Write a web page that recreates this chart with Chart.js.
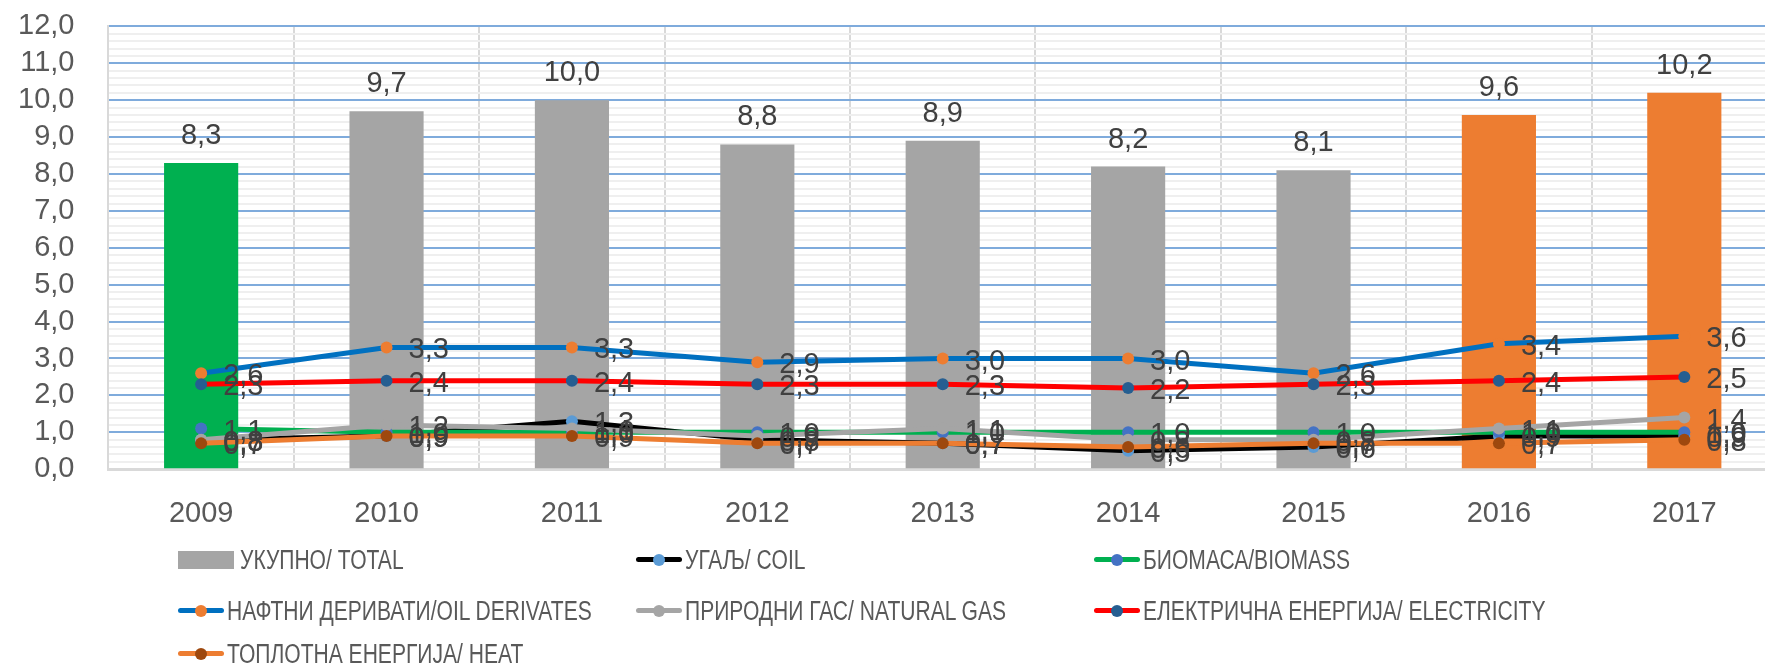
<!DOCTYPE html>
<html>
<head>
<meta charset="utf-8">
<script src="https://cdn.jsdelivr.net/npm/chart.js@4.4.1/dist/chart.umd.min.js"></script>
<style>
html, body { margin: 0; padding: 0; background: #fff; overflow: hidden; }
#wrap { position: relative; width: 1765px; height: 668px; overflow: hidden; }
#cbox { position: absolute; left: -16px; top: -25px; width: 1816px; height: 693px; }
#legend { position: absolute; left: 0; top: 0; width: 1765px; height: 668px; pointer-events: none; }
.item { position: absolute; display: flex; align-items: center; height: 30px; white-space: nowrap;
  font-family: "Liberation Sans", sans-serif; font-size: 27px; color: #595959; }
.item span { display: inline-block; transform: scaleX(0.78); transform-origin: left center; }
.swatch { width: 56px; height: 18px; margin-right: 6px; }
.mark { position: relative; width: 46px; height: 30px; margin-right: 3px; }
.mark .ln { position: absolute; left: 0; right: 0; top: 12px; height: 5px; border-radius: 3px; }
.mark .dot { position: absolute; left: 17px; top: 9px; width: 12px; height: 12px; border-radius: 50%; }
</style>
</head>
<body>
<div id="wrap">
  <div id="cbox"><canvas id="chart"></canvas></div>
  <div id="legend"></div>
</div>
<script>
const years = ['2009', '2010', '2011', '2012', '2013', '2014', '2015', '2016', '2017'];

const total       = [8.3, 9.7, 10.0, 8.8, 8.9, 8.2, 8.1, 9.6, 10.2];
const coal        = [0.8, 0.9, 1.3, 0.8, 0.7, 0.5, 0.6, 0.9, 0.9];
const biomass     = [1.1, 1.0, 1.0, 1.0, 1.0, 1.0, 1.0, 1.0, 1.0];
const oil         = [2.6, 3.3, 3.3, 2.9, 3.0, 3.0, 2.6, 3.4, 3.6];
const gas         = [0.8, 1.2, 1.1, 0.9, 1.1, 0.8, 0.8, 1.1, 1.4];
const electricity = [2.3, 2.4, 2.4, 2.3, 2.3, 2.2, 2.3, 2.4, 2.5];
const heat        = [0.7, 0.9, 0.9, 0.7, 0.7, 0.6, 0.7, 0.7, 0.8];

const yTicks = [0, 1, 2, 3, 4, 5, 6, 7, 8, 9, 10, 11, 12];

const barColors = ['#00B050', '#A5A5A5', '#A5A5A5', '#A5A5A5', '#A5A5A5', '#A5A5A5', '#A5A5A5', '#ED7D31', '#ED7D31'];

const fmt = v => v.toFixed(1).replace('.', ',');
const isMajor = v => yTicks.some(t => Math.abs(t - v) < 1e-6);

function lineSet(label, data, lineColor, dotColor, order) {
    return {
        type: 'line',
        label: label,
        data: data,
        borderColor: lineColor,
        backgroundColor: dotColor,
        pointBackgroundColor: dotColor,
        pointBorderColor: dotColor,
        borderWidth: 5,
        pointRadius: 6,
        pointBorderWidth: 0,
        tension: 0,
        fill: false,
        order: order
    };
}

const datasets = [
    {
        type: 'bar',
        label: 'УКУПНО/ TOTAL',
        data: total,
        backgroundColor: barColors,
        barPercentage: 0.4,
        categoryPercentage: 1.0,
        order: 10
    },
    lineSet('УГАЉ/ COIL', coal, '#000000', '#5B9BD5', 5),
    lineSet('БИОМАСА/BIOMASS', biomass, '#00B050', '#4472C4', 4),
    lineSet('НАФТНИ ДЕРИВАТИ/OIL DERIVATES', oil, '#0070C0', '#ED7D31', 3),
    lineSet('ПРИРОДНИ ГАС/ NATURAL GAS', gas, '#A5A5A5', '#A5A5A5', 2),
    lineSet('ЕЛЕКТРИЧНА ЕНЕРГИЈА/ ELECTRICITY', electricity, '#FF0000', '#255E91', 1),
    lineSet('ТОПЛОТНА ЕНЕРГИЈА/ HEAT', heat, '#ED7D31', '#9E480E', 0)
];

// value labels (no datalabels plugin available offline)
const valueLabels = {
    id: 'valueLabels',
    afterDatasetsDraw(chart) {
        const ctx = chart.ctx;
        ctx.save();
        ctx.font = '29px "Liberation Sans"';
        ctx.fillStyle = '#404040';
        ctx.textBaseline = 'middle';
        chart.data.datasets.forEach((ds, i) => {
            const meta = chart.getDatasetMeta(i);
            meta.data.forEach((el, j) => {
                const txt = fmt(ds.data[j]);
                if (ds.type === 'bar') {
                    ctx.textAlign = 'center';
                    ctx.fillText(txt, el.x, el.y - 27);
                } else {
                    ctx.textAlign = 'left';
                    ctx.fillText(txt, el.x + 22, el.y + 3);
                }
            });
        });
        ctx.restore();
    }
};

Chart.defaults.font.family = '"Liberation Sans", sans-serif';

const chart = new Chart(document.getElementById('chart'), {
    data: { labels: years, datasets: datasets },
    options: {
        responsive: true,
        maintainAspectRatio: false,
        animation: false,
        layout: { padding: { left: 0, right: 23, top: 0, bottom: 110 } },
        plugins: {
            legend: { display: false },
            tooltip: { enabled: false }
        },
        scales: {
            x: {
                grid: { offset: true, color: '#D9D9D9', lineWidth: 2, drawTicks: false },
                border: { color: '#D9D9D9', width: 3 },
                ticks: { color: '#595959', font: { size: 29 }, padding: 27 }
            },
            y: {
                min: 0,
                max: 12,
                grid: {
                    drawTicks: false,
                    color: c => isMajor(c.tick.value) ? '#7FABDC' : '#EFEFEF',
                    lineWidth: 2
                },
                border: { color: '#D9D9D9', width: 2 },
                ticks: {
                    stepSize: 0.2,
                    autoSkip: false,
                    maxTicksLimit: 100,
                    color: '#595959',
                    font: { size: 29 },
                    padding: 34,
                    callback: v => isMajor(v) ? fmt(v) : ''
                }
            }
        }
    },
    plugins: [valueLabels]
});

// legend laid out in three columns like the original
const legendEl = document.getElementById('legend');
const colX = [178, 636, 1094];
const rowY = [545, 596, 639];
datasets.forEach((ds, i) => {
    const item = document.createElement('div');
    item.className = 'item';
    item.style.left = colX[i % 3] + 'px';
    item.style.top = rowY[Math.floor(i / 3)] + 'px';
    if (ds.type === 'bar') {
        item.innerHTML = '<div class="swatch" style="background:#A5A5A5"></div>';
    } else {
        item.innerHTML = '<div class="mark"><div class="ln" style="background:' + ds.borderColor +
            '"></div><div class="dot" style="background:' + ds.pointBackgroundColor + '"></div></div>';
    }
    const span = document.createElement('span');
    span.textContent = ds.label;
    item.appendChild(span);
    legendEl.appendChild(item);
});
</script>
</body>
</html>
